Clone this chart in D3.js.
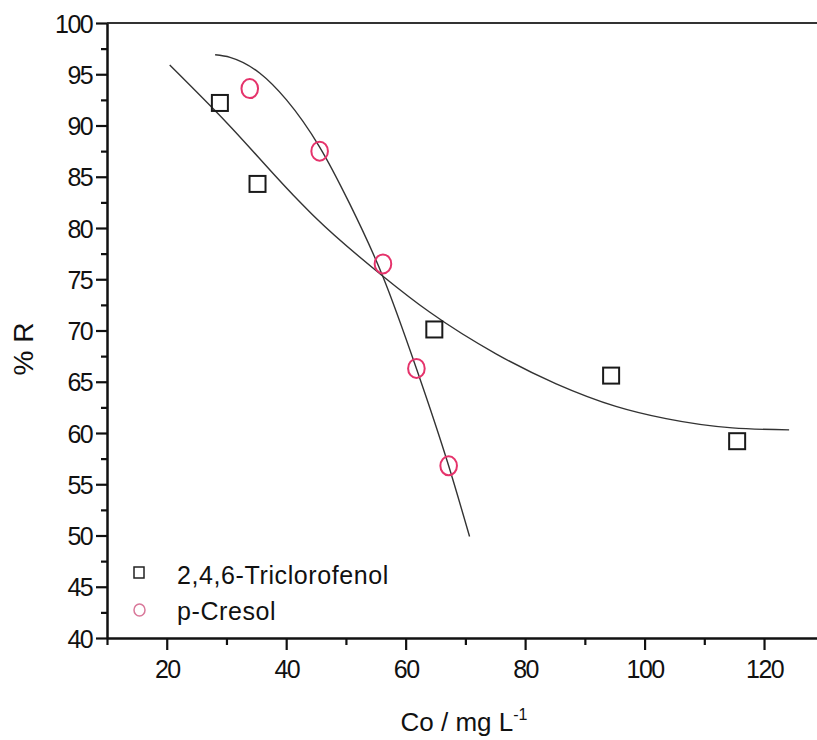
<!DOCTYPE html>
<html>
<head>
<meta charset="utf-8">
<script src="https://cdn.jsdelivr.net/npm/d3@7"></script>
<style>
  html, body { margin: 0; padding: 0; background: #fff; }
  svg { display: block; }
  text { font-family: "Liberation Sans", Arial, Helvetica, sans-serif; fill: #111; }
</style>
</head>
<body>
<svg id="chart" width="817" height="740"></svg>
<script>
// ---- data ----
const seriesNames = ["2,4,6-Triclorofenol", "p-Cresol"];
const tcpX = [28.9, 35.2, 64.8, 94.4, 115.5];
const tcpY = [92.2, 84.3, 70.1, 65.6, 59.2];
const cresolX = [33.9, 45.6, 56.2, 61.8, 67.2];
const cresolY = [93.6, 87.5, 76.5, 66.3, 56.8];
// fitted curves
const tcpFitX = [20.5, 30.0, 41.2, 45.1, 56.2, 64.0, 75.2, 85.2, 95.2, 103.6, 114.7, 124.2];
const tcpFitY = [95.9, 90.3, 83.2, 80.9, 75.3, 71.8, 67.7, 64.8, 62.6, 61.4, 60.5, 60.3];
const cresolFitX = [28.1, 30.6, 35.6, 40.05, 45.6, 50.6, 56.2, 61.8, 67.2, 70.7];
const cresolFitY = [96.9, 96.65, 95.1, 92.5, 87.9, 82.4, 75.25, 66.3, 56.8, 49.9];
const xMajorTicks = [20, 40, 60, 80, 100, 120];
const xMinorTicks = [10, 30, 50, 70, 90, 110, 130];
const yMajorTicks = [40, 45, 50, 55, 60, 65, 70, 75, 80, 85, 90, 95, 100];
const yMinorTicks = [42.5, 47.5, 52.5, 57.5, 62.5, 67.5, 72.5, 77.5, 82.5, 87.5, 92.5, 97.5];
const xTitle = "Co / mg L";
const xTitleSup = "-1";
const yTitle = "% R";

// ---- layout ----
const svg = d3.select("#chart");
const mLeft = 107, mTop = 23, mBottom = 638;
const x = d3.scaleLinear().domain([10, 130]).range([mLeft, mLeft + 120 * 5.973]);
const y = d3.scaleLinear().domain([40, 100]).range([mBottom, mTop]);
const ink = "#111";

// top frame line
svg.append("line")
  .attr("x1", mLeft).attr("x2", 817).attr("y1", y(100)).attr("y2", y(100))
  .attr("stroke", "#333").attr("stroke-width", 2);

// y axis
const yMinor = svg.append("g").attr("transform", `translate(${mLeft},0)`)
  .call(d3.axisLeft(y).tickValues(yMinorTicks).tickSize(6).tickFormat(""));
const yAxis = svg.append("g").attr("transform", `translate(${mLeft},0)`)
  .call(d3.axisLeft(y).tickValues(yMajorTicks).tickSize(11).tickPadding(4).tickSizeOuter(0));
// x axis
const xMinor = svg.append("g").attr("transform", `translate(0,${mBottom})`)
  .call(d3.axisBottom(x).tickValues(xMinorTicks).tickSize(7).tickFormat(""));
const xAxis = svg.append("g").attr("transform", `translate(0,${mBottom})`)
  .call(d3.axisBottom(x).tickValues(xMajorTicks).tickSize(12).tickPadding(10).tickSizeOuter(0));

[yMinor, yAxis, xMinor, xAxis].forEach(g => {
  g.selectAll("path.domain").attr("stroke", ink).attr("stroke-width", 2.5);
  g.selectAll(".tick line").attr("stroke", ink).attr("stroke-width", 2.2);
  g.selectAll(".tick text").style("font-family", '"Liberation Sans", Arial, sans-serif')
    .style("font-size", "25px").style("letter-spacing", "-1.6px").attr("fill", ink);
});
yMinor.select("path.domain").remove();
xMinor.select("path.domain").remove();
yAxis.selectAll(".tick text").attr("dy", "0.36em");
xAxis.selectAll(".tick text").attr("dy", "0.71em");

// axis titles
const xt = svg.append("text").attr("x", 464).attr("y", 731)
  .attr("text-anchor", "middle").style("font-size", "26px");
xt.append("tspan").text(xTitle);
xt.append("tspan").text(xTitleSup).attr("dy", -11).style("font-size", "16px");

svg.append("text").attr("transform", "translate(33,349) rotate(-90)")
  .attr("text-anchor", "middle").style("font-size", "28px").text(yTitle);

// fitted curves
const line = d3.line().x(d => x(d[0])).y(d => y(d[1])).curve(d3.curveMonotoneX);
svg.append("path").datum(d3.zip(tcpFitX, tcpFitY)).attr("d", line)
  .attr("fill", "none").attr("stroke", "#333").attr("stroke-width", 1.4);
svg.append("path").datum(d3.zip(cresolFitX, cresolFitY)).attr("d", line)
  .attr("fill", "none").attr("stroke", "#333").attr("stroke-width", 1.4);

// points
const sq = 16;
svg.append("g").selectAll("rect").data(d3.zip(tcpX, tcpY)).join("rect")
  .attr("x", d => x(d[0]) - sq / 2).attr("y", d => y(d[1]) - sq / 2)
  .attr("width", sq).attr("height", sq)
  .attr("fill", "none").attr("stroke", "#1a1a1a").attr("stroke-width", 2);
svg.append("g").selectAll("ellipse").data(d3.zip(cresolX, cresolY)).join("ellipse")
  .attr("cx", d => x(d[0])).attr("cy", d => y(d[1]))
  .attr("rx", 8.3).attr("ry", 9.5)
  .attr("fill", "none").attr("stroke", "#e5336b").attr("stroke-width", 2);

// legend
const lg = svg.append("g");
lg.append("rect").attr("x", 134).attr("y", 567).attr("width", 10).attr("height", 11)
  .attr("fill", "none").attr("stroke", "#222").attr("stroke-width", 1.5);
lg.append("ellipse").attr("cx", 139.5).attr("cy", 610).attr("rx", 5.5).attr("ry", 6)
  .attr("fill", "none").attr("stroke", "#d9789a").attr("stroke-width", 1.5);
lg.append("text").attr("x", 177).attr("y", 584).style("font-size", "25px")
  .style("letter-spacing", "0.6px").text(seriesNames[0]);
lg.append("text").attr("x", 177).attr("y", 620).style("font-size", "25px")
  .style("letter-spacing", "0.6px").text(seriesNames[1]);
</script>
</body>
</html>
